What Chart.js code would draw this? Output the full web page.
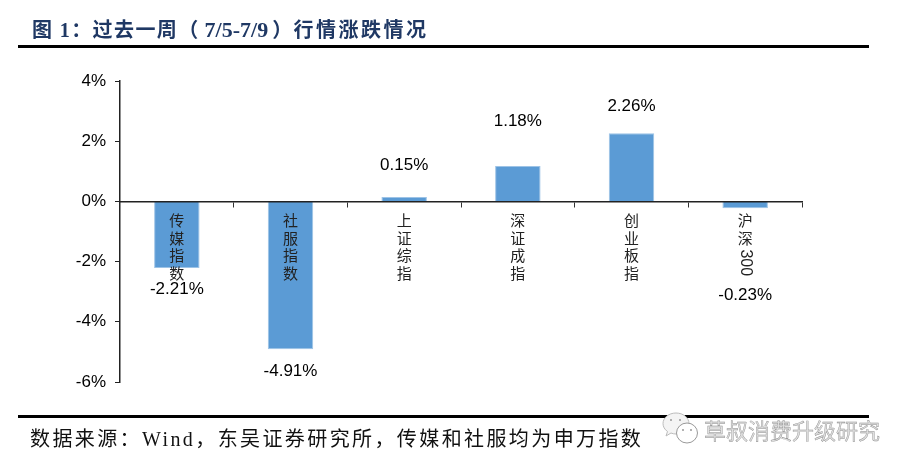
<!DOCTYPE html>
<html>
<head>
<meta charset="utf-8">
<script src="https://cdnjs.cloudflare.com/ajax/libs/Chart.js/4.4.1/chart.umd.js"></script>
<style>
html,body{margin:0;padding:0;background:#fff;overflow:hidden;}
#wrap{position:relative;width:909px;height:470px;}
canvas{position:absolute;left:0;top:0;}
.rule{position:absolute;left:18px;width:851px;height:3px;background:#000;}
#title{position:absolute;left:32px;top:14px;font:bold 20px "Liberation Serif","Noto Sans CJK SC",serif;color:#1f3864;letter-spacing:1.4px;white-space:nowrap;}
#title .a{letter-spacing:2.5px;}
#title .d{font-size:22px;margin:0 4px 0 5px;letter-spacing:0;}
#source{position:absolute;left:30px;top:423px;font:20px "Liberation Serif","Noto Sans CJK SC",serif;color:#111;letter-spacing:2.4px;white-space:nowrap;}
#mark{position:absolute;left:704px;top:413px;font:22px "Noto Sans CJK SC",sans-serif;color:#e0e0e0;-webkit-text-stroke:0.4px #8c8c8c;white-space:nowrap;}
#icon{position:absolute;left:661px;top:411px;}
</style>
</head>
<body>
<div id="wrap">
  <canvas id="c" width="909" height="470"></canvas>
  <div id="title">图 1：过去一周（<span class="d">7/5-7/9</span>）<span class="a">行情涨跌情况</span></div>
  <div class="rule" style="top:45px"></div>
  <div class="rule" style="top:415px"></div>
  <div id="source">数据来源：Wind，东吴证券研究所，传媒和社服均为申万指数</div>
  <svg id="icon" width="40" height="36" viewBox="0 0 40 36" fill="#fff" stroke="#999" stroke-width="1">
    <path d="M15 2c7.500 0 13 5 13 10.500S22.500 23 15 23c-2 0-3.500-.3-5-1l-5 3 1.500-4.500C3.500 18.500 2 15.500 2 12.500 2 7 7.500 2 15 2z" fill="#f4f4f4" stroke="#bbb"/>
    <ellipse cx="26" cy="22" rx="10.500" ry="10"/>
    <circle cx="10" cy="9" r="1" fill="#999" stroke="none"/>
    <circle cx="19" cy="9" r="1" fill="#999" stroke="none"/>
    <circle cx="22" cy="19" r="1" fill="#999" stroke="none"/>
    <circle cx="30" cy="19" r="1" fill="#999" stroke="none"/>
  </svg>
  <div id="mark">草叔消费升级研究</div>
</div>
<script>
const categories=['传媒指数','社服指数','上证综指','深证成指','创业板指','沪深300'];
const values=[-2.21,-4.91,0.15,1.18,2.26,-0.23];
const yTicks=[4,2,0,-2,-4,-6];
// labels were hand placed in the original, distance from bar end in px
const labelGaps=[21,22,-32,-45,-27,87];

const textPlugin={
  id:'barText',
  afterDatasetsDraw(chart){
    const ctx=chart.ctx,x=chart.scales.x,y=chart.scales.y;
    const zero=y.getPixelForValue(0);
    ctx.save();
    ctx.textAlign='center';ctx.textBaseline='middle';
    categories.forEach((name,i)=>{
      const cx=x.getPixelForValue(i);
      let py=zero+19;
      ctx.fillStyle='#222';
      name.split(/(\d+)/).filter(Boolean).forEach(part=>{
        if(/\d/.test(part)){
          ctx.font='16px "Liberation Sans"';
          const w=ctx.measureText(part).width;
          ctx.save();
          ctx.translate(cx,py-6+w/2);
          ctx.rotate(Math.PI/2);
          ctx.fillText(part,0,0);
          ctx.restore();
          py+=w;
        }else{
          ctx.font='15px "Noto Sans CJK SC"';
          for(const ch of part){ctx.fillText(ch,cx,py);py+=17.5;}
        }
      });
      ctx.font='17px "Liberation Sans"';
      ctx.fillStyle='#000';
      ctx.fillText(values[i].toFixed(2)+'%',cx,y.getPixelForValue(values[i])+labelGaps[i]);
    });
    ctx.restore();
  }
};

new Chart(document.getElementById('c'),{
  type:'bar',
  data:{labels:categories,datasets:[{data:values,backgroundColor:'#5b9bd5',borderColor:'#9dc3e6',borderWidth:1,barPercentage:0.4,categoryPercentage:1}]},
  plugins:[textPlugin],
  options:{
    responsive:false,animation:false,
    layout:{padding:{left:0,top:81,right:107,bottom:88}},
    plugins:{legend:{display:false},tooltip:{enabled:false}},
    scales:{
      x:{
        position:{y:0},
        ticks:{display:false},
        afterFit(s){s.height=0;},
        grid:{drawOnChartArea:false,drawTicks:true,tickLength:5,color:'#333',lineWidth:1,offset:true},
        border:{color:'#222',width:1.5,z:1}
      },
      y:{
        min:-6,max:4,
        afterBuildTicks(s){s.ticks=yTicks.map(v=>({value:v}));},
        afterFit(s){s.width=120;},
        ticks:{color:'#000',padding:9,font:{size:17,family:'"Liberation Sans"'},callback:v=>v+'%'},
        grid:{drawOnChartArea:false,tickLength:5,color:'#222',lineWidth:1},
        border:{color:'#222',width:1.5}
      }
    }
  }
});
</script>
</body>
</html>
